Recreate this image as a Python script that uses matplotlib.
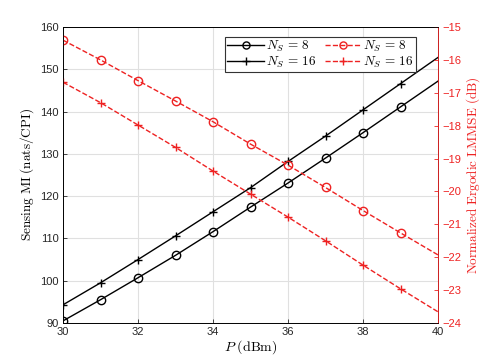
import matplotlib
matplotlib.use("Agg")
import matplotlib.pyplot as plt
import numpy as np

plt.rcParams['mathtext.fontset'] = 'cm'
plt.rcParams['font.family'] = 'Liberation Sans'

P = [30, 31, 32, 33, 34, 35, 36, 37, 38, 39, 40]
mi_ns8 = [90.5, 95.5, 100.7, 106.0, 111.6, 117.4, 123.1, 129.0, 135.0, 141.1, 147.2]
mi_ns16 = [94.3, 99.5, 105.0, 110.6, 116.3, 122.0, 128.2, 134.2, 140.4, 146.6, 152.8]
mse_ns8 = [-15.4, -16.0, -16.63, -17.25, -17.88, -18.56, -19.2, -19.88, -20.58, -21.26, -21.93]
mse_ns16 = [-16.68, -17.3, -17.98, -18.66, -19.38, -20.08, -20.78, -21.5, -22.24, -22.96, -23.66]

red = '#ee2222'
fig = plt.figure(figsize=(4.85, 3.63), dpi=100)
ax = fig.add_axes([63/485, 1-323/363, (438-63)/485, (323-27)/363])
ax2 = ax.twinx()

mk = list(range(10))
l1, = ax.plot(P, mi_ns8, '-', color='k', lw=1, marker='o', ms=6, mfc='none', markevery=mk)
l2, = ax.plot(P, mi_ns16, '-', color='k', lw=1, marker='+', ms=6, markevery=mk)
l3, = ax2.plot(P, mse_ns8, '--', color=red, lw=1, marker='o', ms=6, mfc='none', markevery=mk)
l4, = ax2.plot(P, mse_ns16, '--', color=red, lw=1, marker='+', ms=6, markevery=mk)

ax.set_xlim(30, 40)
ax.set_ylim(90, 160)
ax2.set_ylim(-24, -15)
ax.set_xticks([30, 32, 34, 36, 38, 40])
ax.set_yticks(np.arange(90, 161, 10))
ax2.set_yticks(np.arange(-24, -14, 1))
ax.grid(True, color='#e0e0e0', lw=0.8)
ax.set_axisbelow(True)

for a in (ax, ax2):
    a.tick_params(direction='in', length=3, labelsize=8, width=0.6, pad=3)
ax.tick_params(axis='both', colors='#262626', labelcolor='#262626')
ax2.tick_params(axis='y', colors=red, labelcolor=red)
ax2.spines['right'].set_color(red)
for s in ax.spines.values():
    s.set_linewidth(0.6)
for s in ax2.spines.values():
    s.set_linewidth(0.6)

ax.set_xlabel(r'$P\ \mathrm{(dBm)}$', fontsize=10, labelpad=1)
ax.set_ylabel(r'$\mathrm{Sensing\ MI\ (nats/CPI)}$', fontsize=9.5, labelpad=3)
ax2.set_ylabel(r'$\mathrm{Normalized\ Ergodic\ LMMSE\ (dB)}$', fontsize=9.5, color=red, labelpad=2)

leg = ax2.legend([l1, l2, l3, l4],
                 [r'$N_S\,=\,8$', r'$N_S\,=\,16$', r'$N_S\,=\,8$', r'$N_S\,=\,16$'],
                 ncol=2, loc='upper right', bbox_to_anchor=(0.941, 0.966),
                 fontsize=9.5, fancybox=False, edgecolor='#333333', framealpha=1,
                 handlelength=2.8, handletextpad=0.15, columnspacing=0.6,
                 borderpad=0.15, labelspacing=0.0, borderaxespad=0, markerscale=0.85)
leg.get_frame().set_linewidth(0.8)

fig.savefig('out.png', dpi=100)
